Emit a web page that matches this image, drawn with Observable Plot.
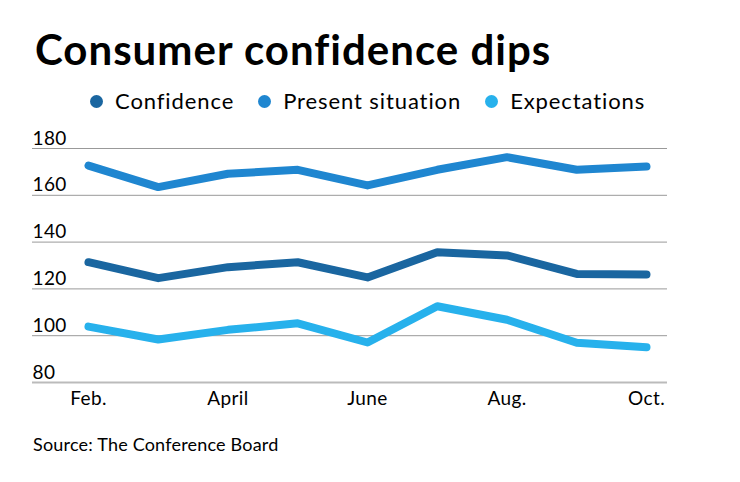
<!DOCTYPE html>
<html><head><meta charset="utf-8">
<script src="https://cdn.jsdelivr.net/npm/d3@7"></script>
<script src="https://cdn.jsdelivr.net/npm/@observablehq/plot@0.6"></script>
<style>
body{margin:0;background:#fff;font-family:Lato,sans-serif;color:#000;width:740px;height:482px;overflow:hidden;position:relative}
#title{position:absolute;left:35px;top:24px;font-size:42px;font-weight:700;line-height:50px;letter-spacing:1px;white-space:nowrap}
#legend{position:absolute;left:90px;top:88px;font-size:22px;line-height:26px;letter-spacing:0.9px;display:flex;white-space:nowrap}
.item{display:flex;align-items:center;margin-right:24px}
.dot{width:13px;height:13px;border-radius:50%;margin-right:12px}
#chart{position:absolute;left:0;top:125px}
#source{position:absolute;left:33px;top:433px;font-size:18px;line-height:22px;letter-spacing:0.2px;white-space:nowrap}
</style>
</head><body>
<div id="title">Consumer confidence dips</div>
<div id="legend"></div>
<div id="chart"></div>
<div id="source">Source: The Conference Board</div>
<script>
const months = ["Feb.","March","April","May","June","July","Aug.","Sept.","Oct."];
const confidence = [131.4,124.6,129.3,131.4,124.9,135.7,134.3,126.4,126.2];
const present = [172.7,163.5,169.2,170.9,164.2,170.9,176.3,170.9,172.3];
const expectations = [103.9,98.4,102.5,105.3,97.1,112.6,106.8,97.0,95.1];
const seriesNames = ["Confidence","Present situation","Expectations"];
const seriesColors = ["#1a66a0","#1f86d0","#27b1ec"];
const yTicks = [80,100,120,140,160,180];
const xTickMonths = ["Feb.","April","June","Aug.","Oct."];

const seriesValues = [confidence, present, expectations];
const rows = seriesNames.flatMap((s, k) => months.map((m, i) => ({i, v: seriesValues[k][i], series: s})));

const legend = document.getElementById("legend");
seriesNames.forEach((s, k) => {
  const it = document.createElement("div"); it.className = "item";
  const d = document.createElement("span"); d.className = "dot"; d.style.background = seriesColors[k];
  const t = document.createElement("span"); t.textContent = s;
  it.append(d, t); legend.append(it);
});

const chart = Plot.plot({
  width: 740, height: 297,
  marginLeft: 32, marginRight: 73, marginTop: 23, marginBottom: 40,
  style: {fontFamily: "Lato, sans-serif", fontSize: "19px", color: "#000", background: "white", letterSpacing: "0.4px"},
  x: {domain: [0, months.length - 1], range: [88, 646]},
  y: {domain: [80, 180], axis: null},
  color: {domain: seriesNames, range: seriesColors},
  marks: [
    Plot.ruleY(yTicks.filter(t => t > 80), {stroke: "#999", strokeWidth: 1}),
    Plot.ruleY([80], {stroke: "#bbb", strokeWidth: 2}),
    Plot.text(yTicks, {y: d => d, text: d => String(d), frameAnchor: "left", textAnchor: "start", lineAnchor: "bottom", dy: -4, fontSize: 19, fill: "#000"}),
    Plot.axisX({ticks: xTickMonths.map(m => months.indexOf(m)), tickFormat: i => months[i], tickSize: 0, tickPadding: 9, fontSize: 19, fill: "#000", label: null}),
    Plot.line(rows, {x: "i", y: "v", z: "series", stroke: "series", strokeWidth: 8, strokeLinecap: "round", strokeLinejoin: "round"})
  ]
});
document.getElementById("chart").append(chart);
</script>
</body></html>
